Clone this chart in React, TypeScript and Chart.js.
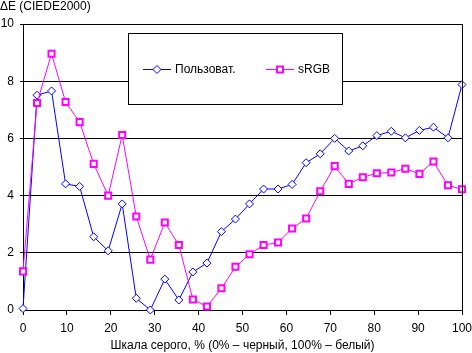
import React, { useEffect, useRef } from "react";
import { Chart, registerables } from "chart.js";

Chart.register(...registerables);

// Grey level, % (x positions of the measured points)
const greyLevels = [
  0, 3.2, 6.5, 9.7, 12.9, 16.1, 19.4, 22.6, 25.8, 29.0, 32.3, 35.5, 38.7, 41.9, 45.2, 48.4,
  51.6, 54.8, 58.1, 61.3, 64.5, 67.7, 71.0, 74.2, 77.4, 80.6, 83.9, 87.1, 90.3, 93.5, 96.8, 100,
];

// ΔE (CIEDE2000) values
const userValues = [
  0.05, 7.51, 7.66, 4.41, 4.32, 2.56, 2.07, 3.71, 0.41, 0.0, 1.08, 0.35, 1.33, 1.64, 2.74, 3.18,
  3.71, 4.23, 4.23, 4.39, 5.15, 5.46, 6.0, 5.56, 5.74, 6.1, 6.25, 6.02, 6.28, 6.39, 6.02, 7.88,
];
const srgbValues = [
  1.35, 7.24, 8.96, 7.27, 6.57, 5.11, 4.0, 6.12, 3.27, 1.76, 3.06, 2.27, 0.37, 0.12, 0.76, 1.51,
  1.95, 2.27, 2.36, 2.85, 3.2, 4.15, 5.03, 4.41, 4.64, 4.78, 4.81, 4.94, 4.76, 5.19, 4.36, 4.22,
];

const seriesLabels = ["Пользоват.", "sRGB"];
const yAxisTitle = "ΔE (CIEDE2000)";
const xAxisTitle = "Шкала серого, % (0% – черный, 100% – белый)";

const FONT = "'Liberation Sans', Arial, sans-serif";
const BLUE = "#0000FF";
const MAGENTA = "#FF00FF";

const framePlugin = {
  id: "frame",
  afterDraw(chart: any) {
    const { ctx, chartArea } = chart;
    ctx.save();
    ctx.strokeStyle = "#000";
    ctx.lineWidth = 1;
    ctx.beginPath();
    ctx.moveTo(chartArea.left, Math.round(chartArea.top) + 0.5);
    ctx.lineTo(chartArea.right + 0.5, Math.round(chartArea.top) + 0.5);
    ctx.moveTo(Math.round(chartArea.right) + 0.5, chartArea.top);
    ctx.lineTo(Math.round(chartArea.right) + 0.5, chartArea.bottom);
    ctx.stroke();
    // y axis title
    ctx.fillStyle = "#000";
    ctx.font = `12px ${FONT}`;
    ctx.textAlign = "left";
    ctx.textBaseline = "middle";
    ctx.fillText(yAxisTitle, 0, 7);
    ctx.restore();
  },
};

const legendPlugin = {
  id: "boxLegend",
  afterDatasetsDraw(chart: any) {
    const ctx = chart.ctx;
    ctx.save();
    const bx = 128.5, by = 33.5, bw = 214, bh = 71;
    ctx.fillStyle = "#fff";
    ctx.fillRect(bx, by, bw, bh);
    ctx.strokeStyle = "#000";
    ctx.lineWidth = 1;
    ctx.strokeRect(bx, by, bw, bh);
    const ly = 69.5;
    const starts = [143, 266];
    chart.data.datasets.forEach((ds: any, i: number) => {
      const x0 = starts[i];
      ctx.strokeStyle = ds.borderColor;
      ctx.lineWidth = 1;
      ctx.beginPath();
      ctx.moveTo(x0, ly);
      ctx.lineTo(x0 + 28, ly);
      ctx.stroke();
      const cx = x0 + 14;
      ctx.fillStyle = "#fff";
      ctx.lineWidth = ds.pointBorderWidth;
      ctx.beginPath();
      if (ds.pointStyle === "rectRot") {
        const r = ds.pointRadius;
        ctx.moveTo(cx, ly - r);
        ctx.lineTo(cx + r, ly);
        ctx.lineTo(cx, ly + r);
        ctx.lineTo(cx - r, ly);
        ctx.closePath();
      } else {
        const s = ds.pointRadius * Math.SQRT1_2;
        ctx.rect(cx - s, ly - s, 2 * s, 2 * s);
      }
      ctx.fill();
      ctx.stroke();
      ctx.fillStyle = "#000";
      ctx.font = `12px ${FONT}`;
      ctx.textAlign = "left";
      ctx.textBaseline = "middle";
      ctx.fillText(ds.label, x0 + 32, ly);
    });
    ctx.restore();
  },
};

export default function App() {
  const ref = useRef<HTMLCanvasElement | null>(null);

  useEffect(() => {
    if (!ref.current) return;
    const chart = new Chart(ref.current, {
      type: "line",
      data: {
        datasets: [
          {
            label: seriesLabels[0],
            data: greyLevels.map((x, i) => ({ x, y: userValues[i] })),
            borderColor: BLUE,
            borderWidth: 1,
            pointStyle: "rectRot",
            pointRadius: 4,
            pointBorderWidth: 1,
            pointBorderColor: BLUE,
            pointBackgroundColor: "#fff",
            tension: 0,
            clip: false,
            order: 2,
          } as any,
          {
            label: seriesLabels[1],
            data: greyLevels.map((x, i) => ({ x, y: srgbValues[i] })),
            borderColor: MAGENTA,
            borderWidth: 1,
            pointStyle: "rect",
            pointRadius: 4.3,
            pointBorderWidth: 2,
            pointBorderColor: MAGENTA,
            pointBackgroundColor: "#fff",
            tension: 0,
            clip: false,
            order: 1,
          } as any,
        ],
      },
      options: {
        animation: false,
        responsive: false,
        events: [],
        layout: { padding: { top: 24, right: 10, left: 0, bottom: 0 } },
        plugins: {
          legend: { display: false },
          tooltip: { enabled: false },
          title: { display: false },
        },
        scales: {
          x: {
            type: "linear",
            min: 0,
            max: 100,
            afterFit: (s: any) => {
              s.height = 43;
              s.paddingLeft = 0;
              s.paddingRight = 0;
            },
            border: { display: true, color: "#000", width: 1 },
            grid: {
              drawOnChartArea: false,
              drawTicks: true,
              tickLength: 5,
              color: "#000",
              lineWidth: 1,
            },
            ticks: {
              stepSize: 10,
              autoSkip: false,
              maxRotation: 0,
              padding: 6,
              color: "#000",
              font: { family: FONT, size: 12 },
            },
            title: {
              display: true,
              text: xAxisTitle,
              color: "#000",
              font: { family: FONT, size: 12 },
              padding: { top: 0, bottom: 0 },
            },
          },
          y: {
            type: "linear",
            min: 0,
            max: 10,
            afterFit: (s: any) => {
              s.width = 23;
              s.paddingTop = 0;
              s.paddingBottom = 0;
            },
            border: { display: true, color: "#000", width: 1 },
            grid: {
              drawOnChartArea: true,
              drawTicks: true,
              tickLength: 3,
              color: "#000",
              lineWidth: 1,
            },
            ticks: {
              stepSize: 2,
              padding: 6,
              color: "#000",
              font: { family: FONT, size: 12 },
            },
          },
        },
      } as any,
      plugins: [framePlugin, legendPlugin],
    });
    return () => chart.destroy();
  }, []);

  return (
    <div style={{ position: "absolute", left: 0, top: 0, width: 472, height: 353, background: "#fff" }}>
      <canvas ref={ref} width={472} height={353} style={{ display: "block" }} />
    </div>
  );
}
